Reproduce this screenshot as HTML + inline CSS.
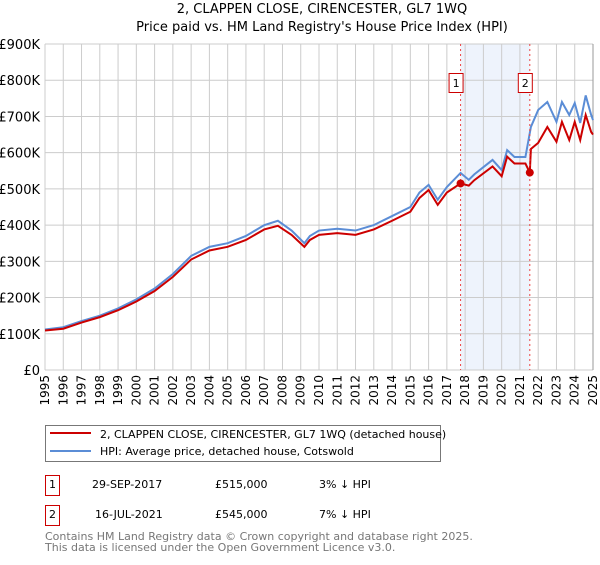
<!DOCTYPE html>
<html><head><meta charset="utf-8"><style>
body{margin:0;background:#fff;font-family:"Liberation Sans","DejaVu Sans",sans-serif}
svg text{font-family:"DejaVu Sans","Liberation Sans",sans-serif}
</style></head><body>
<svg id="c" width="600" height="560" xmlns="http://www.w3.org/2000/svg">
<text x="322" y="13" font-size="13" text-anchor="middle">2, CLAPPEN CLOSE, CIRENCESTER, GL7 1WQ</text>
<text x="322" y="31" font-size="13" text-anchor="middle">Price paid vs. HM Land Registry's House Price Index (HPI)</text>
<g id="grid"></g><g id="marks"></g><g id="axes"></g>
<g>
<rect x="45.5" y="425.5" width="395" height="36" fill="#fff" stroke="#777"/>
<line x1="50" y1="433" x2="91" y2="433" stroke="#cc0000" stroke-width="2"/>
<text x="100" y="438" font-size="11">2, CLAPPEN CLOSE, CIRENCESTER, GL7 1WQ (detached house)</text>
<line x1="50" y1="451" x2="91" y2="451" stroke="#5b8dd6" stroke-width="2"/>
<text x="100" y="455" font-size="11">HPI: Average price, detached house, Cotswold</text>
</g>
<g font-size="11">
<rect x="45.5" y="475.5" width="14" height="20" fill="#fff" stroke="#cc0000"/><text x="49" y="488">1</text>
<text x="92" y="488">29-SEP-2017</text><text x="215" y="488">£515,000</text><text x="319" y="488">3% ↓ HPI</text>
<rect x="45.5" y="505.5" width="14" height="20" fill="#fff" stroke="#cc0000"/><text x="49" y="518">2</text>
<text x="95" y="518">16-JUL-2021</text><text x="215" y="518">£545,000</text><text x="319" y="518">7% ↓ HPI</text>
</g>
<text x="45" y="540" font-size="11" fill="#777">Contains HM Land Registry data © Crown copyright and database right 2025.</text>
<text x="45" y="551" font-size="11" fill="#777">This data is licensed under the Open Government Licence v3.0.</text>
</svg>
<script>
const hpiYears=[1995,1996,1997,1998,1999,2000,2001,2002,2003,2004,2005,2006,2007,2007.75,2008.5,2009.2,2009.5,2010,2011,2012,2013,2014,2015,2015.5,2016,2016.5,2017,2017.75,2018.2,2018.5,2019.5,2020,2020.3,2020.7,2021.3,2021.6,2022,2022.5,2023,2023.3,2023.7,2024,2024.3,2024.6,2024.9,2025];
const hpiValues=[112,118,135,150,170,195,225,265,315,340,350,370,400,412,385,350,370,385,390,385,400,425,450,490,511,470,505,544,525,540,580,552,607,588,588,671,718,740,685,740,704,737,682,758,704,690];
const ppYears=[1995,1996,1997,1998,1999,2000,2001,2002,2003,2004,2005,2006,2007,2007.75,2008.5,2009.2,2009.5,2010,2011,2012,2013,2014,2015,2015.5,2016,2016.5,2017,2017.75,2018.2,2018.5,2019.5,2020,2020.3,2020.7,2021.3,2021.54,2021.6,2022,2022.5,2023,2023.3,2023.7,2024,2024.3,2024.6,2024.9,2025];
const ppValues=[109,114,131,146,165,189,218,257,305,330,340,359,388,398,373,340,359,373,378,373,388,412,437,475,497,456,490,515,509,524,562,535,589,570,570,545,610,627,671,630,685,635,685,635,704,657,650];
const saleYears=[2017.75,2021.54];
const saleValues=[515,545];
const saleLabels=["1","2"];
const yTicks=[0,100,200,300,400,500,600,700,800,900];
const yTickLabels=["£0","£100K","£200K","£300K","£400K","£500K","£600K","£700K","£800K","£900K"];
const xTicks=[1995,1996,1997,1998,1999,2000,2001,2002,2003,2004,2005,2006,2007,2008,2009,2010,2011,2012,2013,2014,2015,2016,2017,2018,2019,2020,2021,2022,2023,2024,2025];
const X0=45,X1=593,Y0=370,Y1=44;
const x=v=>X0+(v-1995)*(X1-X0)/30;
const y=v=>Y0-v*(Y0-Y1)/900;
const NS="http://www.w3.org/2000/svg";
function mk(tag,attrs,parent){const e=document.createElementNS(NS,tag);for(const k in attrs)e.setAttribute(k,attrs[k]);parent.appendChild(e);return e;}
const grid=document.getElementById('grid'),marks=document.getElementById('marks'),axes=document.getElementById('axes');
const sh=mk('rect',{x:x(saleYears[0]),y:Y1,width:x(saleYears[1])-x(saleYears[0]),height:Y0-Y1,fill:'#eef3fc'},grid);


xTicks.forEach(t=>{
 const l=mk('line',{x1:x(t),x2:x(t),y1:Y1,y2:Y0,stroke:'#cccccc'},grid);
 
 
 const tx=mk('text',{transform:`translate(${x(t)+4},${Y0+5}) rotate(-90)`,'font-size':'12','text-anchor':'end'},axes);
 tx.textContent=t;
 
 
});
yTicks.forEach((t,i)=>{
 const l=mk('line',{x1:X0,x2:X1,y1:y(t),y2:y(t),stroke:'#cccccc'},grid);
 
 
 const tx=mk('text',{x:40,y:y(t)+5,'font-size':'13','text-anchor':'end'},axes);
 tx.textContent=yTickLabels[i];
 
 
});
const ax=mk('line',{x1:X1,x2:X1,y1:Y1,y2:Y0,stroke:'#999'},grid);


const hp=mk('polyline',{points:hpiYears.map((v,i)=>x(v)+','+y(hpiValues[i])).join(' '),fill:'none',stroke:'#5b8dd6','stroke-width':'2'},marks);


const pp=mk('polyline',{points:ppYears.map((v,i)=>x(v)+','+y(ppValues[i])).join(' '),fill:'none',stroke:'#cc0000','stroke-width':'2'},marks);


saleYears.forEach((s,i)=>{
 const l=mk('line',{x1:x(s),x2:x(s),y1:Y1,y2:Y0,stroke:'#ee4444','stroke-dasharray':'2,3'},marks);
 
 
 const c=mk('circle',{cx:x(s),cy:y(saleValues[i]),r:4,fill:'#cc0000'},marks);
 
 
 const b=mk('rect',{x:x(s)-11.5,y:73.5,width:14,height:19,fill:'#fff',stroke:'#cc0000'},marks);
 
 
 const t=mk('text',{x:x(s)-4.5,y:87,'font-size':'11','text-anchor':'middle'},marks);
 t.textContent=saleLabels[i];
 
 
});
</script>
</body></html>
